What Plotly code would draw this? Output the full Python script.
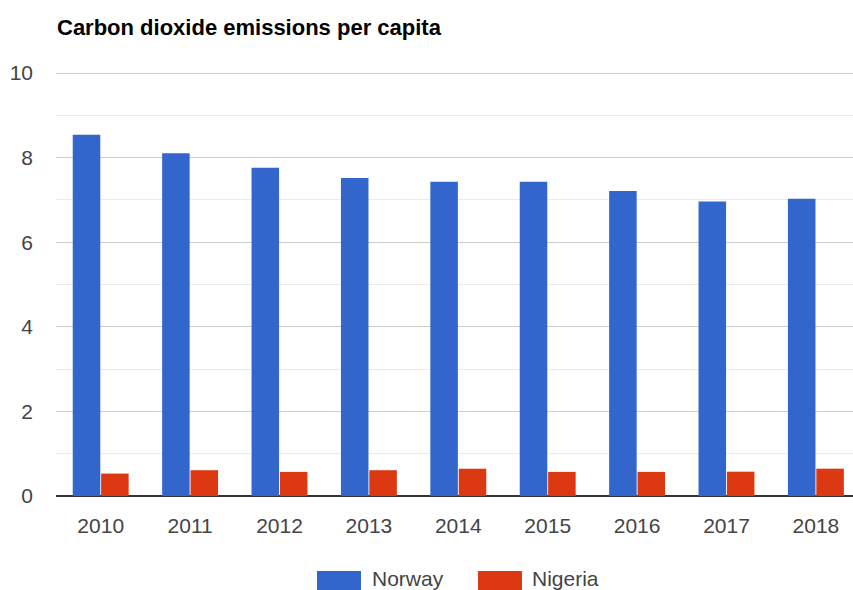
import plotly.graph_objects as go

years = ["2010", "2011", "2012", "2013", "2014", "2015", "2016", "2017", "2018"]
norway = [8.54, 8.10, 7.76, 7.52, 7.43, 7.43, 7.21, 6.96, 7.03]
nigeria = [0.53, 0.61, 0.57, 0.61, 0.645, 0.57, 0.57, 0.575, 0.646]
series_names = ["Norway", "Nigeria"]
colors = ["#3366cc", "#dc3912"]
title = "Carbon dioxide emissions per capita"

W, H = 853, 590
L, R, T, B = 56, 0, 68, 94
pw, ph = W - L - R, H - T - B
unit_px = 42.3  # pixels per y unit in the reference

def px(x):
    return (x - L) / pw

def py(y):
    return (H - B - y) / ph

FONT = "Liberation Sans, Arial, sans-serif"

fig = go.Figure()
for name, vals, c in zip(series_names, [norway, nigeria], colors):
    fig.add_trace(go.Bar(x=years, y=vals, name=name, marker=dict(color=c, line=dict(width=0))))

spacing = 89.4
fig.update_layout(
    width=W, height=H,
    margin=dict(l=L, r=R, t=T, b=B, pad=0),
    paper_bgcolor="white", plot_bgcolor="white",
    barmode="group", bargap=0.365, bargroupgap=0.03,
    showlegend=False,
    font=dict(family=FONT, size=21, color="#444"),
    xaxis=dict(
        type="category", range=[-0.5, -0.5 + pw / spacing],
        showgrid=False, showline=False, zeroline=False,
        ticks="", ticklabelstandoff=15,
        tickfont=dict(size=21, color="#444", family=FONT),
    ),
    yaxis=dict(
        range=[0, ph / unit_px], tickvals=[0, 2, 4, 6, 8, 10],
        showgrid=True, gridcolor="#cccccc", gridwidth=1,
        minor=dict(tickvals=[1, 3, 5, 7, 9], showgrid=True, gridcolor="#ebebeb", gridwidth=1),
        zeroline=True, zerolinecolor="#333333", zerolinewidth=2,
        showline=False, ticks="", ticklabelstandoff=22,
        tickfont=dict(size=21, color="#444", family=FONT),
    ),
)

fig.add_annotation(
    text="<b>" + title + "</b>", xref="paper", yref="paper",
    x=px(55), y=py(27), xanchor="left", yanchor="middle", showarrow=False,
    font=dict(size=22, color="#000", family=FONT),
)

# custom legend
legend_items = [(317, 370), (478, 530)]
for (bx, tx), name, c in zip(legend_items, series_names, colors):
    fig.add_shape(type="rect", xref="paper", yref="paper",
                  x0=px(bx), x1=px(bx + 44), y0=py(571), y1=py(592),
                  fillcolor=c, line=dict(width=0), layer="above")
    fig.add_annotation(text=name, xref="paper", yref="paper",
                       x=px(tx), y=py(578), xanchor="left", yanchor="middle",
                       showarrow=False, font=dict(size=21, color="#444", family=FONT))

fig.write_html("out.html")
